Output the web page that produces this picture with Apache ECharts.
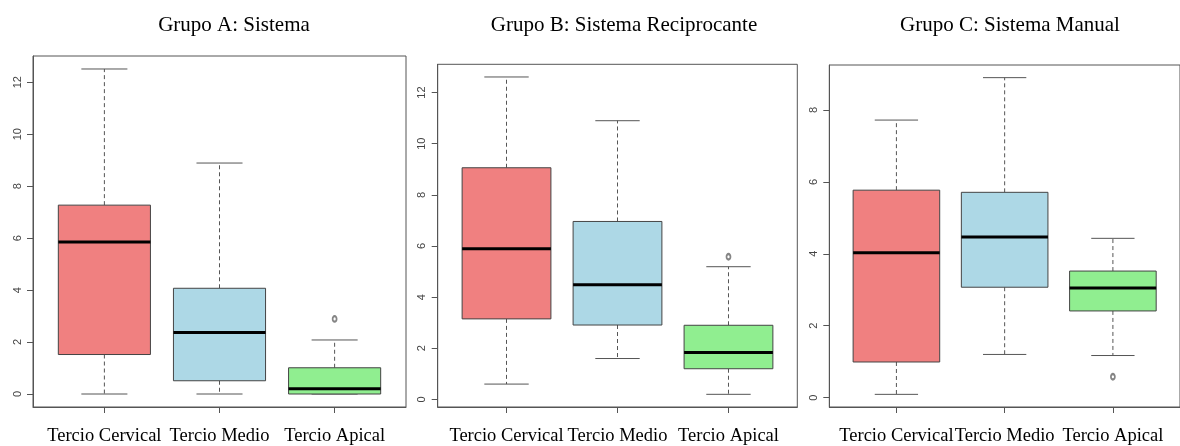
<!DOCTYPE html>
<html>
<head>
<meta charset="utf-8">
<script src="https://cdn.jsdelivr.net/npm/echarts@6/dist/echarts.min.js"></script>
<style>html,body{margin:0;padding:0;background:#fff}#c{width:1180px;height:446px}</style>
</head>
<body>
<div id="c"></div>
<script>
// ---- data ----
const categories = ['Tercio Cervical', 'Tercio Medio', 'Tercio Apical'];
const titles = ['Grupo A: Sistema', 'Grupo B: Sistema Reciprocante', 'Grupo C: Sistema Manual'];
// [min, Q1, median, Q3, max]
const groupA = [
  [0, 1.52, 5.85, 7.27, 12.51],
  [0, 0.51, 2.37, 4.07, 8.89],
  [0, 0.0, 0.2, 1.01, 2.08]
];
const groupB = [
  [0.6, 3.15, 5.89, 9.06, 12.61],
  [1.6, 2.91, 4.48, 6.96, 10.9],
  [0.2, 1.2, 1.84, 2.9, 5.19]
];
const groupC = [
  [0.09, 0.99, 4.03, 5.77, 7.72],
  [1.2, 3.07, 4.47, 5.71, 8.9],
  [1.17, 2.41, 3.05, 3.52, 4.43]
];
// outliers: [category index (1-based), value]
const outliersA = [[3, 2.89]];
const outliersB = [[3, 5.58]];
const outliersC = [[3, 0.58]];
const yTicksA = [0, 2, 4, 6, 8, 10, 12];
const yTicksB = [0, 2, 4, 6, 8, 10, 12];
const yTicksC = [0, 2, 4, 6, 8];

// ---- layout ----
const boxColors = ['#F08080', '#ADD8E6', '#90EE90'];
const panels = [
  {data: groupA, out: outliersA, ticks: yTicksA, grid: {left: 33, top: 56, width: 373, height: 352}, ymin: -0.5, ymax: 13.01, title: [234, 25]},
  {data: groupB, out: outliersB, ticks: yTicksB, grid: {left: 437.7, top: 64.3, width: 359.6, height: 343}, ymin: -0.296, ymax: 13.106, title: [624, 25]},
  {data: groupC, out: outliersC, ticks: yTicksC, grid: {left: 829.3, top: 65, width: 358.7, height: 342.3}, ymin: -0.262, ymax: 9.252, title: [1010, 25]}
];

function renderBox(params, api) {
  const x = api.value(0);
  const lo = api.value(1), q1 = api.value(2), med = api.value(3), q3 = api.value(4), hi = api.value(5);
  const unit = api.size([1, 0])[0];
  const bw = unit * 0.8, cw = unit * 0.4;
  const cx = api.coord([x, med])[0];
  const y = v => api.coord([x, v])[1];
  const wStyle = {stroke: '#555', lineWidth: 1, lineDash: [4, 3]};
  const cStyle = {stroke: '#555', lineWidth: 1};
  const children = [
    {type: 'line', shape: {x1: cx, y1: y(q3), x2: cx, y2: y(hi)}, style: wStyle},
    {type: 'line', shape: {x1: cx, y1: y(q1), x2: cx, y2: y(lo)}, style: wStyle},
    {type: 'line', shape: {x1: cx - cw / 2, y1: y(hi), x2: cx + cw / 2, y2: y(hi)}, style: cStyle},
    {type: 'line', shape: {x1: cx - cw / 2, y1: y(lo), x2: cx + cw / 2, y2: y(lo)}, style: cStyle},
    {type: 'rect', shape: {x: cx - bw / 2, y: y(q3), width: bw, height: y(q1) - y(q3)},
      style: {fill: boxColors[params.dataIndex], stroke: '#444', lineWidth: 1}},
    {type: 'line', shape: {x1: cx - bw / 2, y1: y(med), x2: cx + bw / 2, y2: y(med)}, style: {stroke: '#000', lineWidth: 3}}
  ];
  return {type: 'group', children};
}

const option = {
  animation: false,
  backgroundColor: '#fff',
  grid: [], xAxis: [], yAxis: [], series: [], graphic: []
};

panels.forEach((p, i) => {
  option.grid.push(Object.assign({show: true, borderColor: '#555', borderWidth: 1, backgroundColor: 'transparent', containLabel: false}, p.grid));
  option.xAxis.push({
    type: 'value', gridIndex: i, min: 0.38, max: 3.62,
    axisLine: {show: true, onZero: false, lineStyle: {color: '#555'}},
    axisTick: {show: true, length: 6, customValues: [1, 2, 3], lineStyle: {color: '#555'}},
    axisLabel: {show: true, customValues: [1, 2, 3], margin: 20, formatter: v => categories[Math.round(v) - 1],
      fontFamily: 'Liberation Serif', fontSize: 18.5, color: '#000'},
    splitLine: {show: false}
  });
  option.yAxis.push({
    type: 'value', gridIndex: i, min: p.ymin, max: p.ymax,
    axisLine: {show: true, onZero: false, lineStyle: {color: '#555'}},
    axisTick: {show: true, length: 6, customValues: p.ticks, lineStyle: {color: '#555'}},
    axisLabel: {show: true, customValues: p.ticks, rotate: 90, margin: 10,
      fontFamily: 'Liberation Sans', fontSize: 11, color: '#444'},
    splitLine: {show: false}
  });
  option.series.push({
    type: 'custom', xAxisIndex: i, yAxisIndex: i,
    renderItem: renderBox,
    data: p.data.map((d, k) => [k + 1].concat(d))
  });
  option.series.push({
    type: 'scatter', xAxisIndex: i, yAxisIndex: i,
    symbol: 'emptyCircle', symbolSize: [4, 5.5],
    itemStyle: {color: '#666', borderColor: '#666', borderWidth: 0.8},
    data: p.out
  });
  option.graphic.push({
    type: 'text', x: p.title[0], y: p.title[1],
    style: {text: titles[i], font: '21px "Liberation Serif"', fill: '#000', align: 'center', verticalAlign: 'middle'}
  });
});

const chart = echarts.init(document.getElementById('c'));
chart.setOption(option);
</script>
</body>
</html>
